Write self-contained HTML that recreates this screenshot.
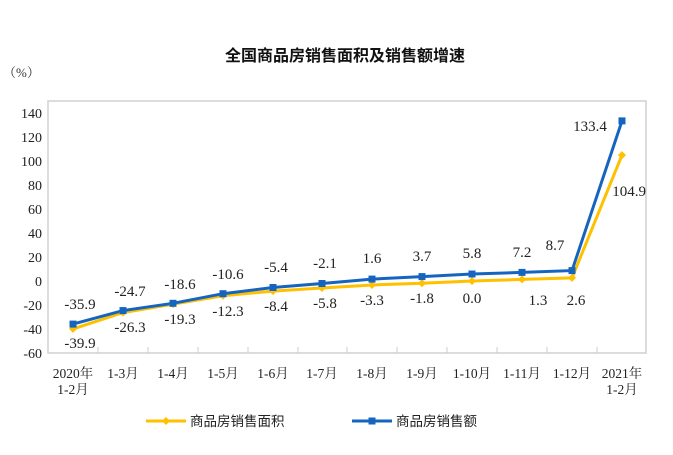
<!DOCTYPE html><html><head><meta charset="utf-8"><style>body{margin:0;background:#fff}</style></head><body>
<svg width="673" height="450" xmlns="http://www.w3.org/2000/svg" font-family="Liberation Serif, Noto Serif CJK SC, serif">
<text x="345" y="61" text-anchor="middle" font-family="Liberation Sans, Noto Sans CJK SC, sans-serif" font-size="16" font-weight="bold" fill="#111">全国商品房销售面积及销售额增速</text>
<text x="3" y="77" font-size="13" fill="#333">（%）</text>
<rect x="48" y="101" width="598" height="252" fill="none" stroke="#d0d0d0" stroke-width="1.5"/>
<g font-size="14" fill="#222" text-anchor="end">
<text x="42" y="118">140</text><text x="42" y="142">120</text><text x="42" y="166">100</text><text x="42" y="190">80</text><text x="42" y="214">60</text><text x="42" y="238">40</text><text x="42" y="262">20</text><text x="42" y="286">0</text><text x="42" y="310">-20</text><text x="42" y="334">-40</text><text x="42" y="358">-60</text>
</g>
<g stroke="#ccc" stroke-width="1">
<line x1="98" y1="353" x2="98" y2="347"/><line x1="148" y1="353" x2="148" y2="347"/><line x1="198" y1="353" x2="198" y2="347"/><line x1="248" y1="353" x2="248" y2="347"/><line x1="298" y1="353" x2="298" y2="347"/><line x1="347" y1="353" x2="347" y2="347"/><line x1="397" y1="353" x2="397" y2="347"/><line x1="447" y1="353" x2="447" y2="347"/><line x1="497" y1="353" x2="497" y2="347"/><line x1="547" y1="353" x2="547" y2="347"/><line x1="597" y1="353" x2="597" y2="347"/>
</g>
<g font-size="13.5" fill="#222" text-anchor="middle">
<text x="73" y="378">2020年</text><text x="73" y="394">1-2月</text>
<text x="123" y="378">1-3月</text><text x="173" y="378">1-4月</text><text x="223" y="378">1-5月</text><text x="273" y="378">1-6月</text><text x="322" y="378">1-7月</text><text x="372" y="378">1-8月</text><text x="422" y="378">1-9月</text><text x="472" y="378">1-10月</text><text x="522" y="378">1-11月</text><text x="572" y="378">1-12月</text>
<text x="622" y="378">2021年</text><text x="622" y="394">1-2月</text>
</g>
<polyline fill="none" stroke="#ffc000" stroke-width="3" points="73,328.9 123,312.6 173,304.2 223,295.8 273,291.1 322,288 372,285 422,283.2 472,281 522,279.4 572,277.9 622,155.1"/>
<polyline fill="none" stroke="#1565c0" stroke-width="3" points="73,324.1 123,310.6 173,303.3 223,293.7 273,287.5 322,283.5 372,279.1 422,276.6 472,274 522,272.4 572,270.6 622,120.9"/>
<g fill="#ffc000">
<path d="M73 324.9l4 4-4 4-4-4z"/><path d="M123 308.6l4 4-4 4-4-4z"/><path d="M173 300.2l4 4-4 4-4-4z"/><path d="M223 291.8l4 4-4 4-4-4z"/><path d="M273 287.1l4 4-4 4-4-4z"/><path d="M322 284l4 4-4 4-4-4z"/><path d="M372 281l4 4-4 4-4-4z"/><path d="M422 279.2l4 4-4 4-4-4z"/><path d="M472 277l4 4-4 4-4-4z"/><path d="M522 275.4l4 4-4 4-4-4z"/><path d="M572 273.9l4 4-4 4-4-4z"/><path d="M622 151.1l4 4-4 4-4-4z"/>
</g>
<g fill="#1565c0">
<rect x="69.5" y="320.6" width="7" height="7"/><rect x="119.5" y="307.1" width="7" height="7"/><rect x="169.5" y="299.8" width="7" height="7"/><rect x="219.5" y="290.2" width="7" height="7"/><rect x="269.5" y="284" width="7" height="7"/><rect x="318.5" y="280" width="7" height="7"/><rect x="368.5" y="275.6" width="7" height="7"/><rect x="418.5" y="273.1" width="7" height="7"/><rect x="468.5" y="270.5" width="7" height="7"/><rect x="518.5" y="268.9" width="7" height="7"/><rect x="568.5" y="267.1" width="7" height="7"/><rect x="618.5" y="117.4" width="7" height="7"/>
</g>
<g font-size="15" fill="#222" text-anchor="middle">
<text x="80" y="309">-35.9</text><text x="130" y="296">-24.7</text><text x="180" y="289">-18.6</text><text x="228" y="279">-10.6</text><text x="276" y="272">-5.4</text><text x="325" y="268">-2.1</text><text x="372" y="263">1.6</text><text x="422" y="261">3.7</text><text x="472" y="258">5.8</text><text x="522" y="257">7.2</text><text x="555" y="250">8.7</text>
<text x="80" y="348">-39.9</text><text x="130" y="332">-26.3</text><text x="180" y="324">-19.3</text><text x="228" y="316">-12.3</text><text x="276" y="311">-8.4</text><text x="325" y="308">-5.8</text><text x="372" y="305">-3.3</text><text x="422" y="303">-1.8</text><text x="472" y="303">0.0</text><text x="538" y="305">1.3</text><text x="576" y="305">2.6</text>
<text x="590" y="131">133.4</text><text x="646" y="196" text-anchor="end">104.9</text>
</g>
<line x1="146" y1="421" x2="186" y2="421" stroke="#ffc000" stroke-width="3"/><path d="M166 417l4 4-4 4-4-4z" fill="#ffc000"/>
<text x="190" y="426" font-family="Liberation Sans, Noto Sans CJK SC, sans-serif" font-size="13.5" fill="#222">商品房销售面积</text>
<line x1="352" y1="421" x2="392" y2="421" stroke="#1565c0" stroke-width="3"/><rect x="368.5" y="417.5" width="7" height="7" fill="#1565c0"/>
<text x="396" y="426" font-family="Liberation Sans, Noto Sans CJK SC, sans-serif" font-size="13.5" fill="#222">商品房销售额</text>
</svg>
</body></html>
